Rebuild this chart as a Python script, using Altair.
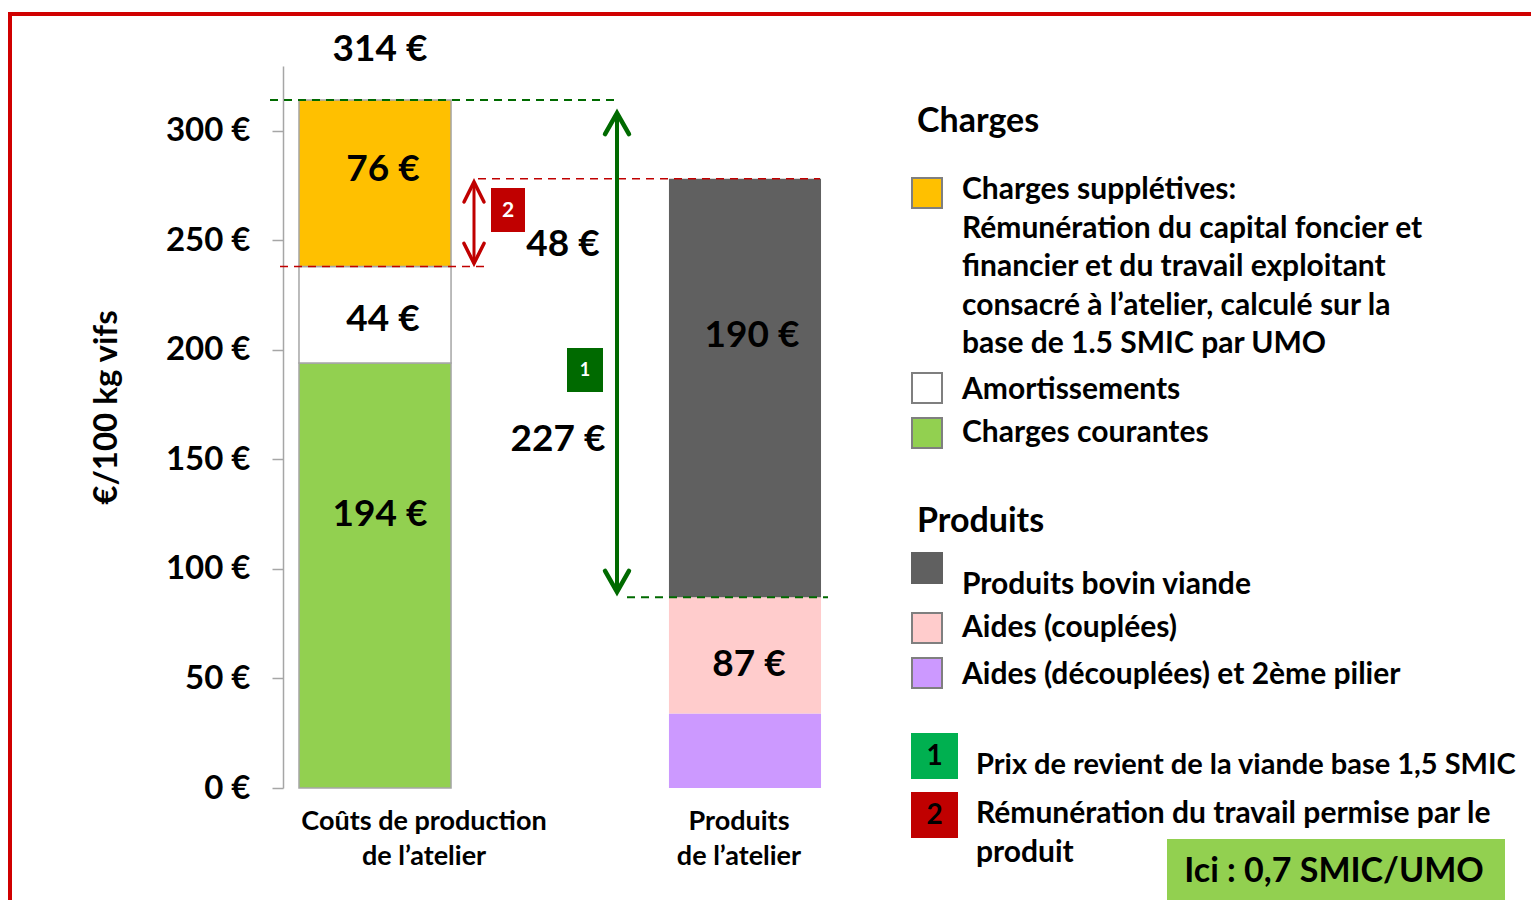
import altair as alt
import pandas as pd

# ---------------- data ----------------
categories = ["Coûts de production de l’atelier", "Produits de l’atelier"]
category_lines = [["Coûts de production", "de l’atelier"], ["Produits", "de l’atelier"]]

charge_names = ["Charges courantes", "Amortissements", "Charges supplétives"]
charge_values = [194, 44, 76]
charge_labels = ["194 €", "44 €", "76 €"]

produit_names = ["Aides (découplées) et 2ème pilier", "Aides (couplées)", "Produits bovin viande"]
produit_values = [34, 53, 191]
produit_labels = ["", "87 €", "190 €"]

total_cost_label = "314 €"
prix_revient_label = "227 €"
remuneration_label = "48 €"

y_ticks = [0, 50, 100, 150, 200, 250, 300]
y_title = "€/100 kg vifs"

legend_charges_title = "Charges"
legend_charges = [
    ("Charges supplétives", ["Charges  supplétives:", "Rémunération du capital foncier et",
                             "financier et du travail exploitant", "consacré à l’atelier, calculé sur la",
                             "base de 1.5 SMIC par UMO"]),
    ("Amortissements", ["Amortissements"]),
    ("Charges courantes", ["Charges courantes"]),
]
legend_produits_title = "Produits"
legend_produits = [
    ("Produits bovin viande", ["Produits bovin viande"]),
    ("Aides (couplées)", ["Aides (couplées)"]),
    ("Aides (découplées) et 2ème pilier", ["Aides (découplées) et 2ème pilier"]),
]
notes = [("1", ["Prix de revient de la viande base 1,5 SMIC"]),
         ("2", ["Rémunération du travail permise par le", "produit"])]
highlight = "Ici : 0,7 SMIC/UMO"

# ---------------- styles ----------------
FONT = "Lato"
colors = {
    "Charges courantes": "#92D050",
    "Amortissements": "#FFFFFF",
    "Charges supplétives": "#FFC000",
    "Aides (découplées) et 2ème pilier": "#CC99FF",
    "Aides (couplées)": "#FFCCCC",
    "Produits bovin viande": "#606060",
}
GREEN = "#006A00"
RED = "#C00000"

W, H = 554, 722
YMAX = 329.5

xscale = alt.Scale(domain=categories, paddingInner=0.589, paddingOuter=0.0432)
yscale = alt.Scale(domain=[0, YMAX], nice=False, zero=True)
cnames = charge_names + produit_names
cscale = alt.Scale(domain=cnames, range=[colors[n] for n in cnames])


def stack(cat, names, vals, labels):
    rows, c = [], 0
    for n, v, l in zip(names, vals, labels):
        rows.append({"cat": cat, "name": n, "y0": c, "y1": c + v, "mid": c + v / 2, "label": l})
        c += v
    return pd.DataFrame(rows)


df_c = stack(categories[0], charge_names, charge_values, charge_labels)
df_p = stack(categories[1], produit_names, produit_values, produit_labels)
total_cost = sum(charge_values)
aides_total = produit_values[0] + produit_values[1]
produit_total = sum(produit_values)
charges_base = charge_values[0] + charge_values[1]

one = pd.DataFrame({"k": [0]})
layers = []


def yD(v):
    return alt.YDatum(v, scale=yscale, axis=None)


def y2D(v):
    return alt.Y2Datum(v)


def text_px(s, x, y, size, color="black", align="left"):
    return alt.Chart(one).mark_text(
        text=s, font=FONT, fontSize=size, fontWeight="bold", color=color,
        align=align, baseline="middle").encode(x=alt.value(x), y=alt.value(y))


def rect_px(x, x2, y, y2, fill, stroke=None, sw=0):
    kw = dict(fill=fill, strokeWidth=sw)
    if stroke:
        kw["stroke"] = stroke
    return alt.Chart(one).mark_rect(**kw).encode(
        x=alt.value(x), x2=alt.value(x2), y=alt.value(y), y2=alt.value(y2))


# frame
layers.append(alt.Chart(one).mark_rect(fillOpacity=0, stroke="#D00000", strokeWidth=4).encode(
    x=alt.value(-273), x2=alt.value(1400), y=alt.value(-52), y2=alt.value(900)))

# bars
yaxis = alt.Axis(values=y_ticks, labelExpr="datum.value + ' €'", labelFont=FONT, labelFontSize=33,
                 labelFontWeight="bold", labelColor="black", labelPadding=22, tickSize=11,
                 tickColor="#A6A6A6", tickWidth=1.5, domainColor="#A6A6A6", domainWidth=1.5,
                 grid=False, title=y_title, titleFont=FONT, titleFontSize=33, titleFontWeight="bold",
                 titleColor="black", titleAngle=-90, titleX=-177, titleY=341, titleAlign="center",
                 titleBaseline="middle")
layers.append(alt.Chart(df_c).mark_bar(stroke="#A6A6A6", strokeWidth=1.5).encode(
    x=alt.X("cat:N", scale=xscale, axis=None),
    y=alt.Y("y0:Q", scale=yscale, axis=yaxis),
    y2="y1:Q",
    color=alt.Color("name:N", scale=cscale, legend=None)))
layers.append(alt.Chart(df_p).mark_bar(strokeWidth=0).encode(
    x=alt.X("cat:N", scale=xscale, axis=None),
    y=alt.Y("y0:Q", scale=yscale, axis=None),
    y2="y1:Q",
    color=alt.Color("name:N", scale=cscale, legend=None)))

# segment value labels (dx, dy shifts in px)
shifts_c = [(5, -60), (8, 5), (8, -13)]
shifts_p = [(0, 0), (4, 10), (7, -52)]
for df, shifts in [(df_c, shifts_c), (df_p, shifts_p)]:
    for i, (dx, dy) in enumerate(shifts):
        row = df.iloc[[i]]
        if not row["label"].iloc[0]:
            continue
        layers.append(alt.Chart(row).mark_text(
            font=FONT, fontSize=37, fontWeight="bold", color="black", dx=dx, dy=dy,
            baseline="middle").encode(
            x=alt.X("cat:N", scale=xscale, axis=None),
            y=alt.Y("mid:Q", scale=yscale, axis=None),
            text="label:N"))

# total label
layers.append(alt.Chart(pd.DataFrame({"cat": [categories[0]]})).mark_text(
    text=total_cost_label, font=FONT, fontSize=37, fontWeight="bold", color="black",
    dx=5, dy=-50, baseline="middle").encode(
    x=alt.X("cat:N", scale=xscale, axis=None), y=yD(total_cost)))

# category labels
for cat, lines, dx in zip(categories, category_lines, [49, -6]):
    for j, line in enumerate(lines):
        layers.append(alt.Chart(pd.DataFrame({"cat": [cat]})).mark_text(
            text=line, font=FONT, fontSize=27, fontWeight="bold", color="black",
            dx=dx, baseline="middle").encode(
            x=alt.X("cat:N", scale=xscale, axis=None), y=alt.value(756 + 35 * j)))

# dashed guide lines
dash = [8, 6]
layers.append(alt.Chart(one).mark_rule(color=GREEN, strokeWidth=2, strokeDash=dash).encode(
    x=alt.value(-13), x2=alt.value(334), y=yD(total_cost)))
layers.append(alt.Chart(one).mark_rule(color=GREEN, strokeWidth=2, strokeDash=dash).encode(
    x=alt.value(344), x2=alt.value(545), y=yD(aides_total)))
layers.append(alt.Chart(one).mark_rule(color=RED, strokeWidth=1.5, strokeDash=dash).encode(
    x=alt.value(195), x2=alt.value(537), y=yD(produit_total)))
layers.append(alt.Chart(one).mark_rule(color=RED, strokeWidth=1.5, strokeDash=dash).encode(
    x=alt.value(-3), x2=alt.value(202), y=yD(charges_base)))

# green double arrow (prix de revient)
g_top, g_bot = total_cost - 6, aides_total + 2.5
layers.append(alt.Chart(one).mark_rule(color=GREEN, strokeWidth=4).encode(
    x=alt.value(334), y=yD(g_top), y2=y2D(g_bot)))
layers.append(alt.Chart(one).mark_point(shape="M-0.57,1L0,0L0.57,1", filled=False, size=1764,
                                        color=GREEN, strokeWidth=4.5, opacity=1, strokeCap="round").encode(
    x=alt.value(334), y=yD(g_top)))
layers.append(alt.Chart(one).mark_point(shape="M-0.57,-1L0,0L0.57,-1", filled=False, size=1764,
                                        color=GREEN, strokeWidth=4.5, opacity=1, strokeCap="round").encode(
    x=alt.value(334), y=yD(g_bot)))

# red double arrow (rémunération)
r_top, r_bot = produit_total - 1.4, charges_base + 1.4
layers.append(alt.Chart(one).mark_rule(color=RED, strokeWidth=3).encode(
    x=alt.value(191), y=yD(r_top), y2=y2D(r_bot)))
layers.append(alt.Chart(one).mark_point(shape="M-0.5,1L0,0L0.5,1", filled=False, size=1600,
                                        color=RED, strokeWidth=3.5, opacity=1, strokeCap="round").encode(
    x=alt.value(191), y=yD(r_top)))
layers.append(alt.Chart(one).mark_point(shape="M-0.5,-1L0,0L0.5,-1", filled=False, size=1600,
                                        color=RED, strokeWidth=3.5, opacity=1, strokeCap="round").encode(
    x=alt.value(191), y=yD(r_bot)))

# annotation amounts
layers.append(alt.Chart(one).mark_text(
    text=remuneration_label, font=FONT, fontSize=37, fontWeight="bold", color="black",
    dy=22, baseline="middle").encode(x=alt.value(280), y=yD((produit_total + charges_base) / 2)))
layers.append(alt.Chart(one).mark_text(
    text=prix_revient_label, font=FONT, fontSize=37, fontWeight="bold", color="black",
    dy=91, baseline="middle").encode(x=alt.value(275), y=yD((total_cost + aides_total) / 2)))

# numbered boxes in chart
layers.append(rect_px(208, 242, 122, 166, RED))
layers.append(text_px("2", 225, 145, 21, color="white", align="center"))
layers.append(rect_px(284, 320, 282, 326, GREEN))
layers.append(text_px("1", 302, 305, 18, color="white", align="center"))

# ---------------- legend ----------------
LX, TX = 629, 679
LFS = 30
layers.append(text_px(legend_charges_title, 634, 56, 34))
sw_tops_c = [112, 307, 352]
text_ys_c = [124, 324, 367]
for (name, lines), st, ty in zip(legend_charges, sw_tops_c, text_ys_c):
    layers.append(alt.Chart(pd.DataFrame({"name": [name]})).mark_rect(stroke="#7F7F7F", strokeWidth=2).encode(
        x=alt.value(LX), x2=alt.value(LX + 30), y=alt.value(st), y2=alt.value(st + 30),
        color=alt.Color("name:N", scale=cscale, legend=None)))
    for j, line in enumerate(lines):
        layers.append(text_px(line, TX, ty + 38.6 * j, LFS))

layers.append(text_px(legend_produits_title, 634, 456, 34))
sw_tops_p = [487, 547, 592]
text_ys_p = [519, 562, 609]
for (name, lines), st, ty in zip(legend_produits, sw_tops_p, text_ys_p):
    stroke = "#7F7F7F" if name != "Produits bovin viande" else colors[name]
    layers.append(alt.Chart(pd.DataFrame({"name": [name]})).mark_rect(stroke=stroke, strokeWidth=2).encode(
        x=alt.value(LX), x2=alt.value(LX + 30), y=alt.value(st), y2=alt.value(st + 30),
        color=alt.Color("name:N", scale=cscale, legend=None)))
    for j, line in enumerate(lines):
        layers.append(text_px(line, TX, ty + 39 * j, LFS))

note_colors = ["#00B050", RED]
note_tops = [667, 726]
note_text_ys = [699, 748]
note_sizes = [29, 30]
for (num, lines), col, nt, ty, fs in zip(notes, note_colors, note_tops, note_text_ys, note_sizes):
    layers.append(rect_px(628, 675, nt, nt + 46, col))
    layers.append(text_px(num, 651.5, nt + 24, 28, align="center"))
    for j, line in enumerate(lines):
        layers.append(text_px(line, 693, ty + 39 * j, fs))

layers.append(rect_px(884, 1222, 773, 837, "#92D050"))
layers.append(text_px(highlight, 1051, 806, 34, align="center"))

chart = alt.layer(*layers).resolve_axis(x="independent", y="independent").properties(
    width=W, height=H,
    autosize=alt.AutoSizeParams(type="none"),
    padding={"left": 275, "top": 58, "right": 694, "bottom": 112},
).configure_view(stroke=None)

chart.save("out.html", embed_options={"renderer": "svg", "actions": False})
